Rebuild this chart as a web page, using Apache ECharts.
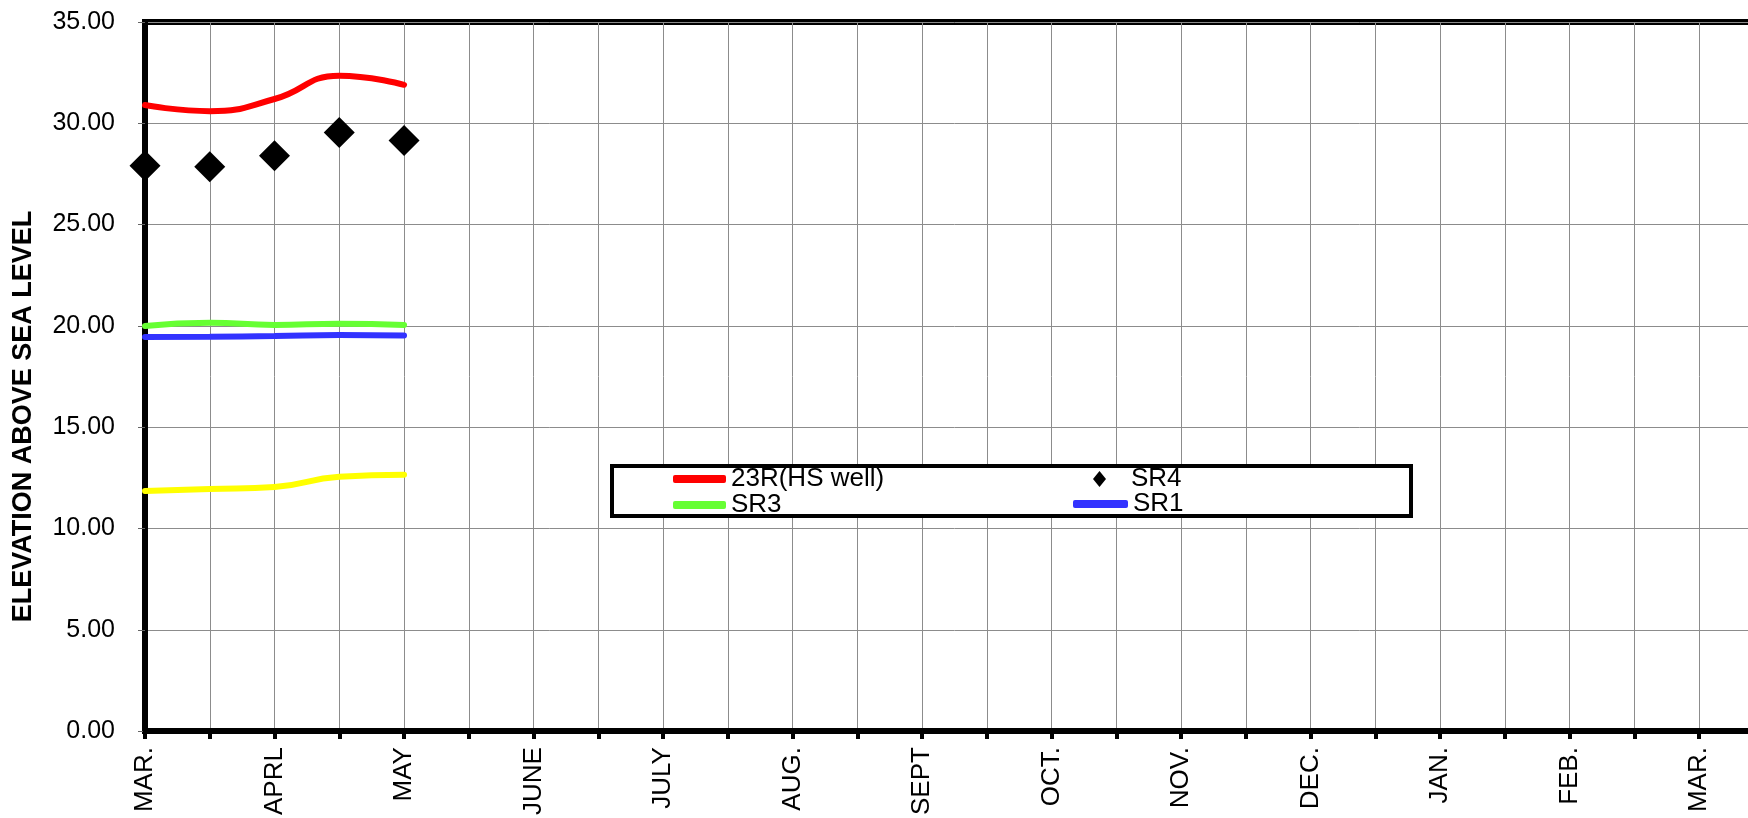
<!DOCTYPE html>
<html><head><meta charset="utf-8">
<script src="https://cdn.jsdelivr.net/npm/echarts@6/dist/echarts.min.js"></script>
<style>html,body{margin:0;padding:0;background:#fff;overflow:hidden;width:1748px;height:818px}#c{width:1800px;height:818px}</style>
</head><body><div id="c"></div>
<script>
// Month labels placed on every other (half-month) tick
const monthLabels = ['MAR.','APRL','MAY','JUNE','JULY','AUG.','SEPT','OCT.','NOV.','DEC.','JAN.','FEB.','MAR.'];
// Reading positions in half-month steps from the start of March
const readingSteps = [0, 1, 2, 3, 4];
const well23R = [30.9, 30.6, 31.2, 32.35, 31.9];
const sr4 = [27.9, 27.85, 28.4, 29.55, 29.15];
const sr3 = [20.0, 20.15, 20.05, 20.1, 20.05];
const sr1 = [19.45, 19.47, 19.5, 19.55, 19.53];
const series5 = [11.85, 11.95, 12.05, 12.55, 12.65];
const yMin = 0, yMax = 35, yStep = 5;
const xMax = 25;

const FONT = "'Liberation Sans', Arial, sans-serif";
const pairs = arr => readingSteps.map((s, i) => [s, arr[i]]);

const chart = echarts.init(document.getElementById('c'), null, {renderer: 'canvas', width: 1800, height: 818});
const lineSeries = (name, data, color) => ({
  name, type: 'line', data: pairs(data), smooth: true, symbol: 'none',
  lineStyle: {color, width: 6, cap: 'round'}, itemStyle: {color}, z: 3
});
const legendBase = {
  orient: 'vertical', padding: 0, itemGap: 0, selectedMode: false, z: 6,
  textStyle: {fontSize: 26, lineHeight: 25, color: '#000', fontFamily: FONT}
};
// diamond centred in a 53x18 box (tiny corner marks fix the bounding box)
const diamondIcon = 'path://M0,0L0.05,0L0,0.05Z M53,18L52.95,18L53,17.95Z M26.5,1L33,9L26.5,17L20,9Z';
chart.setOption({
  animation: false,
  backgroundColor: '#fff',
  grid: {left: 145, top: 22, width: 1619, height: 711, show: true, borderColor: '#000', borderWidth: 6, backgroundColor: 'transparent'},
  xAxis: {
    type: 'value', min: 0, max: xMax, interval: 1,
    axisLine: {show: true, lineStyle: {color: '#000', width: 6}},
    axisTick: {show: true, length: 8, lineStyle: {color: '#000', width: 4}},
    splitLine: {show: true, lineStyle: {color: '#8c8c8c', width: 1}},
    axisLabel: {
      rotate: 90, margin: 16, fontSize: 26, color: '#000', fontFamily: FONT,
      formatter: v => (v % 2 === 0 && monthLabels[v / 2] !== undefined) ? monthLabels[v / 2] : ''
    }
  },
  yAxis: {
    type: 'value', min: yMin, max: yMax, interval: yStep,
    name: 'ELEVATION ABOVE SEA LEVEL', nameLocation: 'middle', nameGap: 108,
    nameTextStyle: {fontSize: 27, fontWeight: 'bold', color: '#000', fontFamily: FONT, padding: [0, 80, 0, 0]},
    axisLine: {show: true, lineStyle: {color: '#000', width: 6}},
    axisTick: {show: true, length: 7, lineStyle: {color: '#666', width: 1}},
    splitLine: {show: true, lineStyle: {color: '#8c8c8c', width: 1}},
    axisLabel: {margin: 30, fontSize: 25, color: '#000', fontFamily: FONT, formatter: v => v.toFixed(2)}
  },
  legend: [
    Object.assign({}, legendBase, {left: 673, top: 466, itemWidth: 53, itemHeight: 8,
      data: [{name: '23R(HS well)', icon: 'roundRect'}, {name: 'SR3', icon: 'roundRect'}]}),
    Object.assign({}, legendBase, {left: 1073, top: 466, itemWidth: 53, itemHeight: 18,
      data: [{name: 'SR4', icon: diamondIcon}]}),
    Object.assign({}, legendBase, {left: 1073, top: 491, itemWidth: 55, itemHeight: 8,
      data: [{name: 'SR1', icon: 'roundRect'}]})
  ],
  graphic: [{
    type: 'rect', z: 5, shape: {x: 612, y: 466, width: 799, height: 50},
    style: {fill: '#fff', stroke: '#000', lineWidth: 4}
  }],
  series: [
    lineSeries('23R(HS well)', well23R, '#ff0000'),
    {name: 'SR4', type: 'scatter', data: pairs(sr4), symbol: 'diamond', symbolSize: [31, 31], itemStyle: {color: '#000', opacity: 1}, z: 4},
    lineSeries('SR3', sr3, '#66ff33'),
    lineSeries('SR1', sr1, '#3333ff'),
    lineSeries('Series5', series5, '#ffff00')
  ]
});
</script>
</body></html>
